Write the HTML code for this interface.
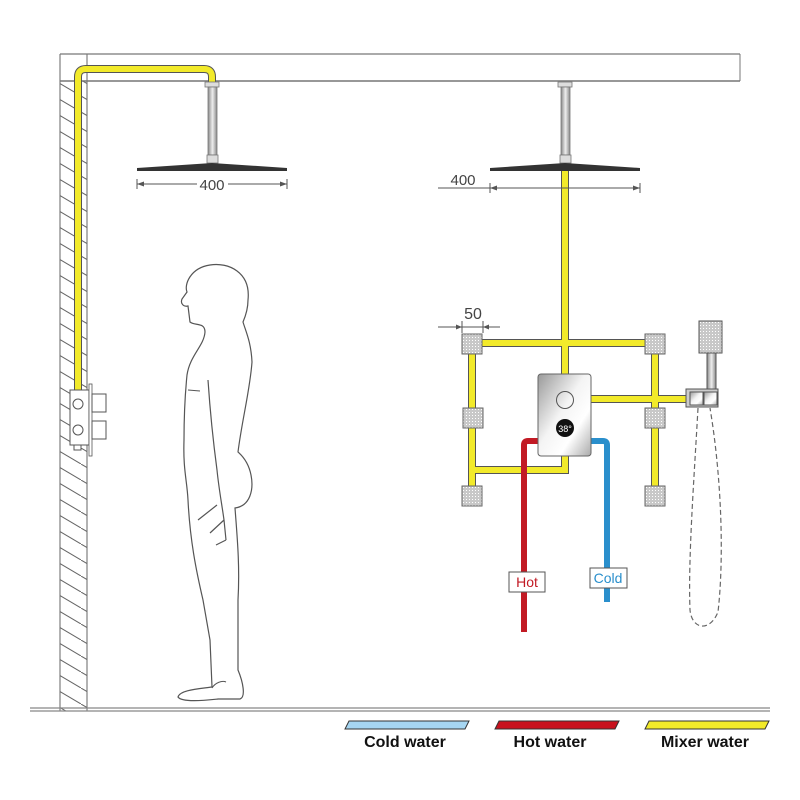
<!DOCTYPE html>
<html><head><meta charset="utf-8"><style>
html,body{margin:0;padding:0;background:#fff;}
svg{display:block;}
</style></head><body>
<svg width="800" height="800" viewBox="0 0 800 800" xmlns="http://www.w3.org/2000/svg" font-family="Liberation Sans, sans-serif">
<defs>
<pattern id="hatch" width="27" height="16" patternUnits="userSpaceOnUse">
<line x1="0" y1="0" x2="27" y2="16" stroke="#666" stroke-width="1"/>
</pattern>
<linearGradient id="chrome" x1="0" y1="0" x2="1" y2="1">
<stop offset="0" stop-color="#999"/><stop offset="0.45" stop-color="#f4f4f4"/><stop offset="0.7" stop-color="#fff"/><stop offset="1" stop-color="#aaa"/>
</linearGradient>
<linearGradient id="pipe" x1="0" y1="0" x2="1" y2="0">
<stop offset="0" stop-color="#888"/><stop offset="0.5" stop-color="#eee"/><stop offset="1" stop-color="#888"/>
</linearGradient>
<pattern id="dots" width="3" height="3" patternUnits="userSpaceOnUse">
<rect width="3" height="3" fill="#c8c8c8"/><rect x="1" y="1" width="1" height="1" fill="#fff"/>
</pattern>
</defs>

<!-- wall & ceiling -->
<rect x="60" y="81" width="27" height="630" fill="url(#hatch)"/>
<line x1="60" y1="54" x2="60" y2="711" stroke="#666"/>
<line x1="87" y1="54" x2="87" y2="711" stroke="#666"/>
<line x1="60" y1="54" x2="740" y2="54" stroke="#777" stroke-width="1.2"/>
<line x1="60" y1="81" x2="740" y2="81" stroke="#777" stroke-width="1.5"/>
<line x1="740" y1="54" x2="740" y2="81" stroke="#777"/>
<!-- floor -->
<line x1="30" y1="708" x2="770" y2="708" stroke="#888" stroke-width="1.2"/>
<line x1="30" y1="711" x2="770" y2="711" stroke="#888" stroke-width="1.2"/>

<!-- left yellow pipe -->
<path d="M78,392 L78,77 Q78,69 86,69 L204,69 Q212,69 212,77 L212,82" fill="none" stroke="#555" stroke-width="8"/>
<path d="M78,392 L78,77 Q78,69 86,69 L204,69 Q212,69 212,77 L212,82" fill="none" stroke="#f2ea2a" stroke-width="6"/>

<!-- left shower -->
<rect x="205" y="82" width="14" height="5" fill="#ddd" stroke="#777" stroke-width="0.8"/>
<rect x="208" y="87" width="9" height="68" fill="url(#pipe)" stroke="#777" stroke-width="0.8"/>
<rect x="207" y="155" width="11" height="8" fill="#ddd" stroke="#777" stroke-width="0.8"/>
<path d="M137,168 L212,163 L287,168 L287,171 L137,171 Z" fill="#333"/>
<line x1="137" y1="184" x2="197" y2="184" stroke="#555"/>
<line x1="228" y1="184" x2="287" y2="184" stroke="#555"/>
<line x1="137" y1="179" x2="137" y2="189" stroke="#555"/><line x1="287" y1="179" x2="287" y2="189" stroke="#555"/>
<path d="M137,184 l7,-2.5 v5z M287,184 l-7,-2.5 v5z" fill="#555"/>
<text x="212" y="190" font-size="15" fill="#444" text-anchor="middle">400</text>

<!-- wall valve -->
<rect x="70" y="390" width="19" height="55" fill="#fff" stroke="#555"/>
<circle cx="78" cy="404" r="5" fill="#fff" stroke="#555"/>
<circle cx="78" cy="430" r="5" fill="#fff" stroke="#555"/>
<rect x="74" y="445" width="7" height="5" fill="#fff" stroke="#555"/>
<rect x="89" y="384" width="3" height="72" fill="#fff" stroke="#555" stroke-width="0.8"/>
<rect x="92" y="394" width="14" height="18" fill="#fff" stroke="#555"/>
<rect x="92" y="421" width="14" height="18" fill="#fff" stroke="#555"/>

<!-- person -->
<path d="M248,300 C251,272 228,262 210,265 C190,268 184,285 187,292 L182,299 C180,304 184,307 188,306 L190,322 C195,326 205,322 205,332 C204,346 190,355 187,375 C185,395 184,420 184,440 C183,470 187,480 188,500 C190,540 196,570 203,600 L210,640 L212,687 C198,689 180,690 178,697 C182,703 208,700 218,699 L240,699 C246,697 243,682 238,670 L238,600 C240,565 237,535 235,508 C250,506 254,490 251,475 C248,460 240,454 238,452 C242,420 250,390 252,362 C251,342 246,332 243,322 C246,315 248,308 248,300 Z" fill="none" stroke="#555" stroke-width="1.2"/>
<path d="M208,380 C210,410 213,440 217,470 C219,490 222,505 224,520 L226,540 M217,505 L198,520 M224,520 L210,533 M226,540 L216,545" fill="none" stroke="#555" stroke-width="1.2"/>
<path d="M188,390 L200,391 M212,688 C215,683 222,680 226,682" fill="none" stroke="#555" stroke-width="1"/>

<!-- right mount & shower -->
<rect x="558" y="82" width="14" height="5" fill="#ddd" stroke="#777" stroke-width="0.8"/>
<rect x="561" y="87" width="9" height="68" fill="url(#pipe)" stroke="#777" stroke-width="0.8"/>
<rect x="560" y="155" width="11" height="8" fill="#ddd" stroke="#777" stroke-width="0.8"/>

<!-- yellow pipes right -->
<g fill="none" stroke="#555" stroke-width="8" stroke-linejoin="miter">
<path d="M565,170 L565,376"/>
<path d="M471,343 L655,343"/>
<path d="M472,343 L472,497"/>
<path d="M655,343 L655,497"/>
<path d="M472,470 L565,470 L565,455"/>
<path d="M590,399 L690,399"/>
</g>
<g fill="none" stroke="#f2ea2a" stroke-width="6" stroke-linejoin="miter">
<path d="M565,170 L565,376"/>
<path d="M471,343 L655,343"/>
<path d="M472,343 L472,497"/>
<path d="M655,343 L655,497"/>
<path d="M472,470 L565,470 L565,455"/>
<path d="M590,399 L690,399"/>
</g>
<path d="M490,168 L565,163 L640,168 L640,171 L490,171 Z" fill="#333"/>
<line x1="438" y1="188" x2="640" y2="188" stroke="#555"/>
<line x1="490" y1="183" x2="490" y2="193" stroke="#555"/><line x1="640" y1="183" x2="640" y2="193" stroke="#555"/>
<path d="M490,188 l7,-2.5 v5z M640,188 l-7,-2.5 v5z" fill="#555"/>
<text x="463" y="185" font-size="15" fill="#444" text-anchor="middle">400</text>

<!-- 50 dimension -->
<text x="473" y="319" font-size="16" fill="#444" text-anchor="middle">50</text>
<line x1="438" y1="327" x2="500" y2="327" stroke="#555"/>
<line x1="462" y1="321" x2="462" y2="333" stroke="#555"/><line x1="483" y1="321" x2="483" y2="333" stroke="#555"/>
<path d="M462,327 l-6,-2.5 v5z M483,327 l6,-2.5 v5z" fill="#555"/>

<!-- body jets -->
<g stroke="#666" stroke-width="1" fill="url(#dots)">
<rect x="462" y="334" width="20" height="20"/>
<rect x="645" y="334" width="20" height="20"/>
<rect x="463" y="408" width="20" height="20"/>
<rect x="645" y="408" width="20" height="20"/>
<rect x="462" y="486" width="20" height="20"/>
<rect x="645" y="486" width="20" height="20"/>
</g>

<!-- hot & cold -->
<path d="M540,441 L528,441 Q524,441 524,445 L524,632" fill="none" stroke="#c21a24" stroke-width="6"/>
<path d="M590,441 L603,441 Q607,441 607,445 L607,602" fill="none" stroke="#2a8fcc" stroke-width="6"/>

<!-- valve -->
<rect x="538" y="374" width="53" height="82" rx="3" fill="url(#chrome)" stroke="#666"/>
<circle cx="565" cy="400" r="8.5" fill="none" stroke="#555"/>
<circle cx="565" cy="428" r="9" fill="#111"/>
<text x="565" y="432" font-size="9" fill="#fff" text-anchor="middle">38°</text>

<rect x="509" y="572" width="36" height="20" fill="#fff" stroke="#555"/>
<text x="527" y="587" font-size="14" fill="#c21a24" text-anchor="middle">Hot</text>
<rect x="590" y="568" width="37" height="20" fill="#fff" stroke="#555"/>
<text x="608" y="583" font-size="14" fill="#2a8fcc" text-anchor="middle">Cold</text>

<!-- hand shower -->
<rect x="699" y="321" width="23" height="32" fill="url(#dots)" stroke="#555"/>
<rect x="707" y="353" width="9" height="37" fill="url(#pipe)" stroke="#555"/>
<rect x="686" y="389" width="32" height="18" fill="#ccc" stroke="#555"/>
<rect x="690" y="392" width="13" height="13" fill="url(#chrome)" stroke="#555"/>
<rect x="704" y="392" width="13" height="13" fill="url(#chrome)" stroke="#555"/>
<path d="M698,408 C694,480 688,560 690,610 C692,630 710,632 718,612 C724,560 722,480 710,408" fill="none" stroke="#666" stroke-width="1.2" stroke-dasharray="5,3"/>

<!-- legend -->
<path d="M349,721 L469,721 L465,729 L345,729 Z" fill="#a6d6f2" stroke="#333" stroke-width="1"/>
<path d="M499,721 L619,721 L615,729 L495,729 Z" fill="#c8121e" stroke="#333" stroke-width="1"/>
<path d="M649,721 L769,721 L765,729 L645,729 Z" fill="#f2ea2a" stroke="#333" stroke-width="1"/>
<text x="405" y="747" font-size="16" font-weight="bold" fill="#111" text-anchor="middle">Cold water</text>
<text x="550" y="747" font-size="16" font-weight="bold" fill="#111" text-anchor="middle">Hot water</text>
<text x="705" y="747" font-size="16" font-weight="bold" fill="#111" text-anchor="middle">Mixer water</text>
</svg>
</body></html>
